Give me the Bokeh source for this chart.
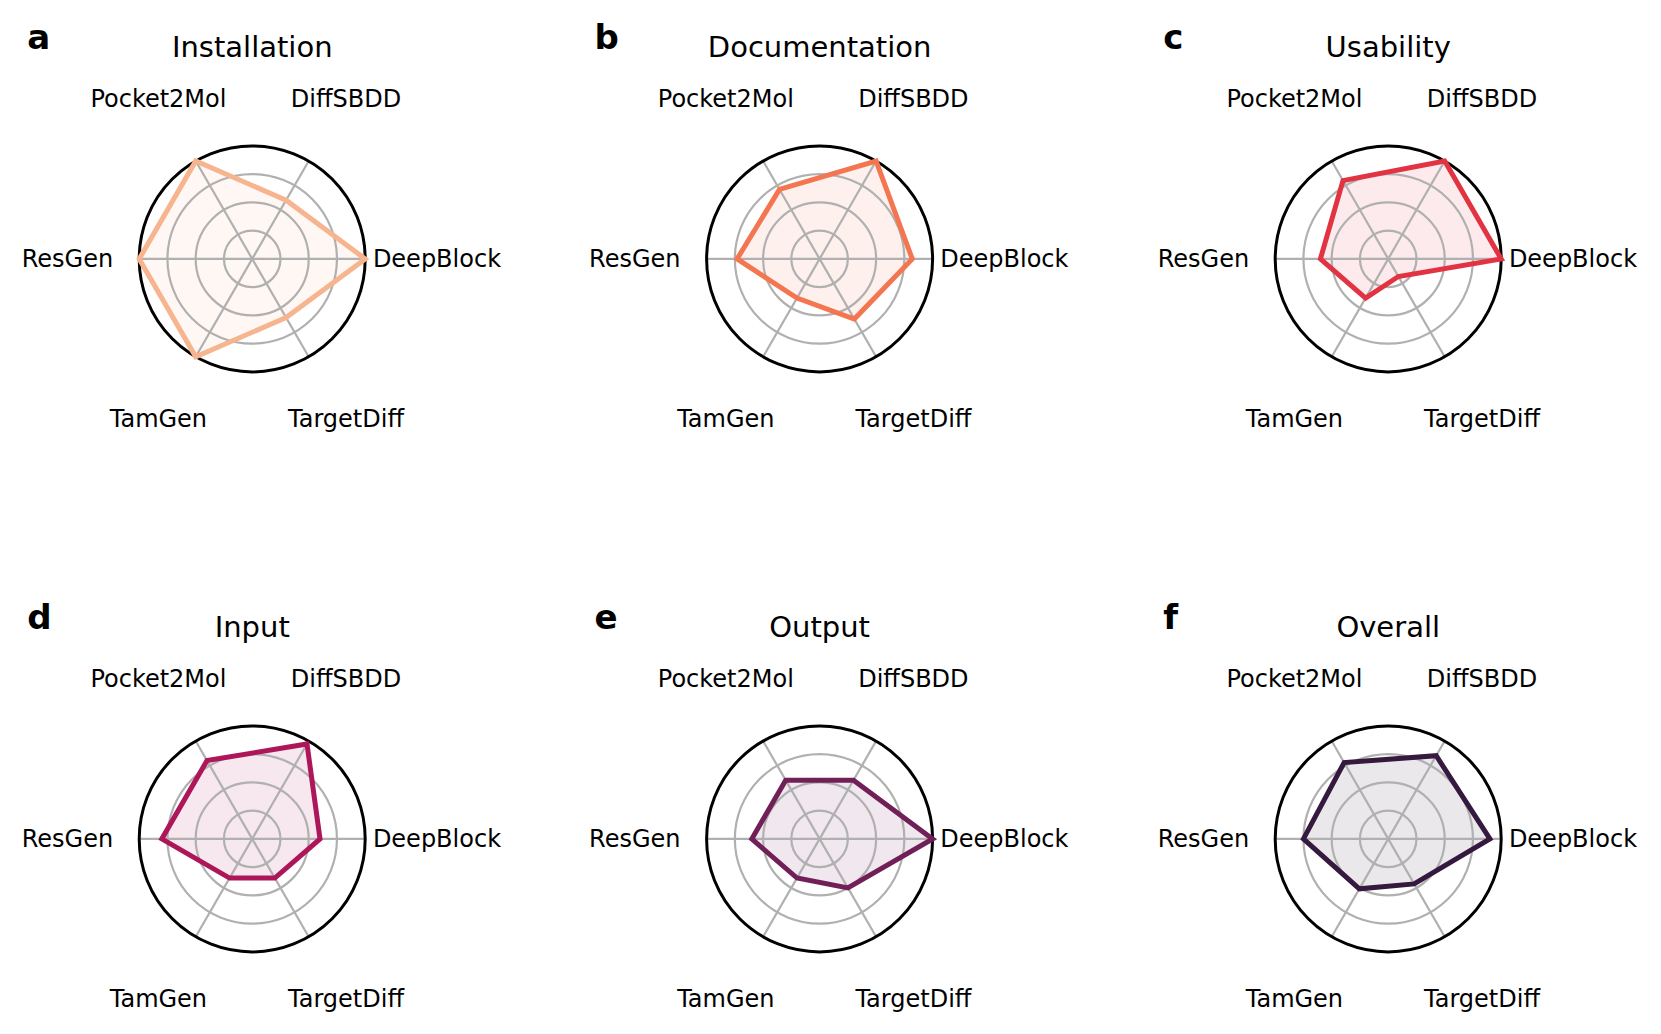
import numpy as np
from bokeh.plotting import figure
from bokeh.models import Range1d
from bokeh.core.properties import value
from bokeh.embed import file_html
from bokeh.resources import INLINE

# ---- data ----
models = ["DeepBlock", "DiffSBDD", "Pocket2Mol", "ResGen", "TamGen", "TargetDiff"]
titles = ["Installation", "Documentation", "Usability", "Input", "Output", "Overall"]
letters = ["a", "b", "c", "d", "e", "f"]
installation = [1.0, 0.6, 1.0, 1.0, 1.0, 0.6]
documentation = [0.82, 1.0, 0.71, 0.73, 0.4, 0.615]
usability = [1.0, 1.0, 0.8, 0.6, 0.4, 0.18]
input_scores = [0.6, 0.97, 0.8, 0.8, 0.4, 0.4]
output_scores = [1.0, 0.6, 0.6, 0.6, 0.4, 0.5]
overall = [0.9, 0.85, 0.78, 0.75, 0.51, 0.46]
series = [installation, documentation, usability, input_scores, output_scores, overall]
colors = ["#f6b48f", "#f37651", "#e13342", "#ad1759", "#701f57", "#35193e"]
grid_levels = [0.25, 0.5, 0.75]

# ---- layout (pixel units, y downward) ----
W, H = 1645, 1018
R = 113.0
col_x = [251.7, 819.1, 1387.7]
row_y = [258.4, 838.4]
FONT = value("DejaVu Sans")

p = figure(width=W, height=H, x_range=Range1d(0, W), y_range=Range1d(H, 0),
           output_backend="svg", toolbar_location=None,
           x_axis_type=None, y_axis_type=None, min_border=0)
p.grid.visible = False
p.outline_line_color = None

theta = np.deg2rad(np.arange(len(models)) * 60.0)
label_rx = np.array([1.635, 1.66, 1.66, 1.635, 1.66, 1.66]) * R
label_ry = np.array([1.635, 1.635, 1.635, 1.635, 1.635, 1.635]) * R

for i, vals in enumerate(series):
    cx = col_x[i % 3]
    cy = row_y[i // 3]
    col = colors[i]
    v = np.array(vals)
    px = cx + R * v * np.cos(theta)
    py = cy - R * v * np.sin(theta)
    # fill
    p.patch(list(px), list(py), fill_color=col, fill_alpha=0.1, line_color=None)
    # grid circles
    p.circle(x=[cx] * len(grid_levels), y=[cy] * len(grid_levels),
             radius=[R * g for g in grid_levels], fill_color=None,
             line_color="#b0b0b0", line_width=2.2)
    # spokes
    p.segment(x0=[cx] * 6, y0=[cy] * 6, x1=list(cx + R * np.cos(theta)),
              y1=list(cy - R * np.sin(theta)), line_color="#b0b0b0", line_width=2.2)
    # outer circle
    p.circle(x=[cx], y=[cy], radius=[R], fill_color=None, line_color="black", line_width=3)
    # data outline
    p.patch(list(px), list(py), fill_color=None, line_color=col, line_width=5,
            line_join="miter")
    # labels
    p.text(x=list(cx + label_rx * np.cos(theta)), y=list(cy - label_ry * np.sin(theta)),
           text=models, text_font=FONT, text_font_size="24px",
           text_align="center", text_baseline="middle", text_color="black")
    # title
    p.text(x=[cx], y=[cy - 212], text=[titles[i]], text_font=FONT,
           text_font_size="29px", text_align="center", text_baseline="middle",
           text_color="black")
    # panel letter
    p.text(x=[cx - 225], y=[cy - 222], text=[letters[i]], text_font=FONT,
           text_font_size="34px", text_font_style="bold", text_align="left",
           text_baseline="middle", text_color="black")

open("out.html", "w").write(file_html(p, INLINE))
